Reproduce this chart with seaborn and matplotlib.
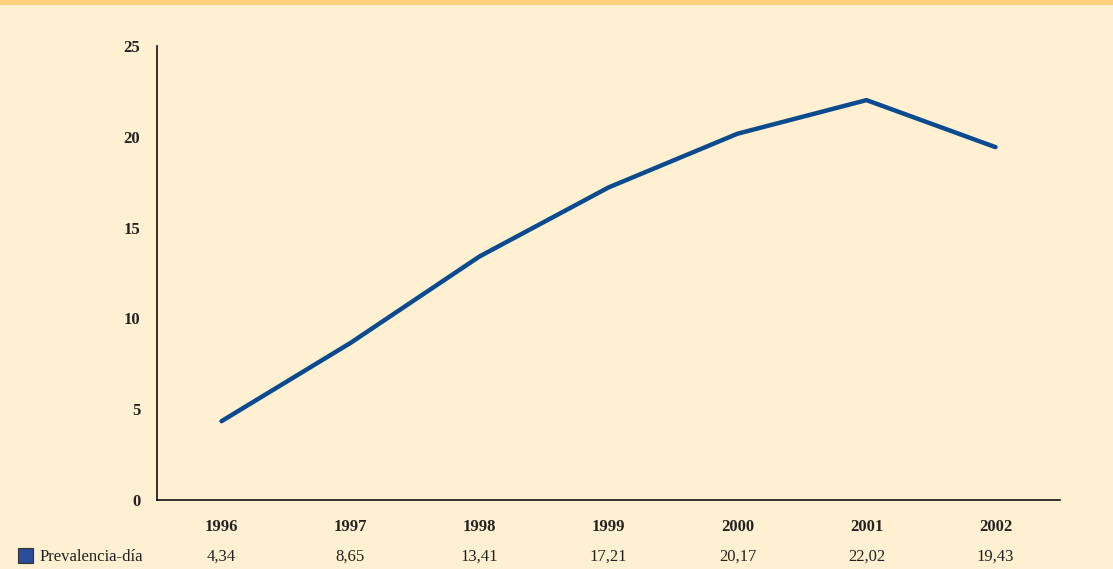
import matplotlib
matplotlib.use("Agg")
import matplotlib.pyplot as plt
import seaborn as sns
import pandas as pd
from matplotlib.patches import Rectangle

years = ["1996", "1997", "1998", "1999", "2000", "2001", "2002"]
values = [4.34, 8.65, 13.41, 17.21, 20.17, 22.02, 19.43]
value_labels = ["4,34", "8,65", "13,41", "17,21", "20,17", "22,02", "19,43"]
series_name = "Prevalencia-día"
yticks = [0, 5, 10, 15, 20, 25]

sns.set_theme(style="white")
plt.rcParams['font.family'] = ['Liberation Serif', 'DejaVu Serif']

bg = "#FEF0D0"
fig = plt.figure(figsize=(11.13, 5.69), dpi=100, facecolor=bg)
W, H = 1113, 569
ax = fig.add_axes([157 / W, 1 - 500 / H, (1060 - 157) / W, (500 - 46) / H])
ax.set_facecolor(bg)

df = pd.DataFrame({"year": years, "value": values})
sns.lineplot(data=df, x="year", y="value", ax=ax, color="#0A4A8F", linewidth=3.2, sort=False)

ax.set_xlim(-0.5, 6.5)
ax.set_ylim(0, 25)
ax.set_yticks(yticks)
ax.set_yticklabels([str(t) for t in yticks], fontweight="bold", fontsize=12)
ax.set_xticks(range(len(years)))
ax.set_xticklabels(years, fontweight="bold", fontsize=12)
ax.tick_params(axis="both", length=0, colors="#222222")
ax.tick_params(axis="y", pad=12)
ax.tick_params(axis="x", pad=14)
ax.set_xlabel("")
ax.set_ylabel("")
for s in ["top", "right"]:
    ax.spines[s].set_visible(False)
for s in ["left", "bottom"]:
    ax.spines[s].set_color("#111111")
    ax.spines[s].set_linewidth(1.2)

# top orange band
fig.patches.append(Rectangle((0, 1 - 5 / H), 1, 5 / H, transform=fig.transFigure,
                             facecolor="#FFD27A", edgecolor="none"))

# data table row
ty = 1 - 557 / H
fig.patches.append(Rectangle((18 / W, 1 - 563 / H), 15 / W, 15 / H, transform=fig.transFigure,
                             facecolor="#2B4C9C", edgecolor="#333333", linewidth=0.8))
fig.text(40 / W, ty, series_name, ha="left", va="center", fontsize=12, color="#222222")
blend = matplotlib.transforms.blended_transform_factory(ax.transData, fig.transFigure)
for i, lab in enumerate(value_labels):
    ax.text(i, ty, lab, transform=blend, ha="center", va="center", fontsize=12,
            color="#222222")

fig.savefig("out.png", dpi=100, facecolor=bg)
